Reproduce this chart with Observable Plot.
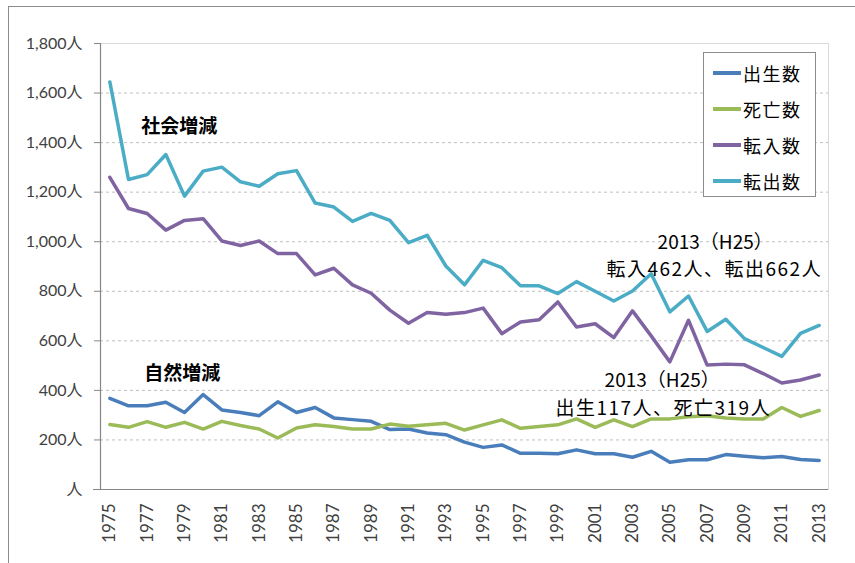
<!DOCTYPE html>
<html><head><meta charset="utf-8">
<script src="https://cdn.jsdelivr.net/npm/d3@7"></script>
<script src="https://cdn.jsdelivr.net/npm/@observablehq/plot@0.6"></script>
<style>
body{margin:0;background:#fff;}
#wrap{position:relative;width:855px;height:563px;overflow:hidden;font-family:"Noto Sans CJK JP",sans-serif;}
#frame{position:absolute;left:8px;top:6px;width:900px;height:600px;border:1.5px solid #8c8c8c;box-sizing:border-box;}
#chart{position:absolute;left:0;top:0;}
#legend{position:absolute;left:703px;top:52px;width:113px;height:145px;border:1px solid #8c8c8c;background:#fff;box-sizing:border-box;}
.item{position:absolute;left:9px;height:24px;display:flex;align-items:center;font-size:18px;letter-spacing:1.5px;color:#000;}
.sw{width:28px;height:3.5px;margin-right:2px;}
g[aria-description="detail"] text{letter-spacing:1.5px;}
</style></head>
<body>
<div id="wrap"><div id="frame"></div><div id="chart"></div><div id="legend"></div></div>
<script>
const years = [1975,1976,1977,1978,1979,1980,1981,1982,1983,1984,1985,1986,1987,1988,1989,1990,1991,1992,1993,1994,1995,1996,1997,1998,1999,2000,2001,2002,2003,2004,2005,2006,2007,2008,2009,2010,2011,2012,2013];
const seriesNames = ["出生数","死亡数","転入数","転出数"];
const seriesColors = ["#4a7ebb","#9bbb59","#8064a2","#4bacc6"];
const births = [368,338,338,352,311,383,321,311,298,354,311,331,289,282,275,242,244,228,221,191,170,180,146,146,144,160,144,144,130,154,110,120,120,141,134,128,133,121,117];
const deaths = [262,251,274,251,271,244,275,258,244,208,248,261,254,244,244,264,255,261,267,240,261,281,247,254,261,285,251,281,254,285,285,294,298,289,285,285,331,295,319];
const moveIn = [1260,1134,1114,1047,1086,1093,1003,985,1003,952,952,866,893,826,792,724,671,714,707,714,732,629,676,685,757,656,669,613,721,620,515,683,502,506,503,468,430,442,462];
const moveOut = [1645,1251,1271,1352,1184,1285,1301,1242,1224,1274,1287,1156,1140,1082,1114,1086,996,1026,902,826,925,895,822,822,791,839,800,761,801,871,717,781,638,687,609,573,537,630,662];
const yTicks = [0,200,400,600,800,1000,1200,1400,1600,1800];
const xTicks = years.filter((d,i)=>i%2===0);
const annotations = [
  {year:1977, value:1462, text:"社会増減", kind:"bold", shift:-6},
  {year:1977, value:467, text:"自然増減", kind:"bold", shift:-3},
  {year:2007, value:995, text:"2013（H25）", kind:"year", shift:8},
  {year:2013, value:886, text:"転入462人、転出662人", kind:"detail", shift:3},
  {year:2004, value:439, text:"2013（H25）", kind:"year", shift:11},
  {year:2010, value:326, text:"出生117人、死亡319人", kind:"detail", shift:8}
];

const allValues = [births, deaths, moveIn, moveOut];
const rows = [];
allValues.forEach((vals, s) => years.forEach((y, i) => rows.push({year:y, value:vals[i], name:seriesNames[s]})));

const jp = '"Noto Sans CJK JP",sans-serif';
const textStyles = {
  bold:{textAnchor:"start", fontWeight:"bold"},
  year:{textAnchor:"middle", fontWeight:"normal"},
  detail:{textAnchor:"end", fontWeight:"normal"}
};
const annotationMarks = annotations.map(a => Plot.text([a], {
  x:"year", y:"value", text:"text", dx:a.shift, fontFamily:jp, fontSize:19, fill:"#000",
  ariaDescription:a.kind, ...textStyles[a.kind]
}));

const chart = Plot.plot({
  width:855, height:563,
  marginLeft:100, marginRight:27, marginTop:43, marginBottom:74,
  style:{fontFamily:'Lato,"Noto Sans CJK JP",sans-serif', fontSize:"16px", color:"#404040", background:"transparent"},
  x:{type:"point", domain:years, padding:0.5, round:false, axis:null, label:null},
  y:{domain:[0,1800], axis:null, label:null},
  color:{domain:seriesNames, range:seriesColors},
  marks:[
    Plot.frame({stroke:"#d9d9d9"}),
    Plot.ruleY(yTicks.filter(d=>d>0 && d<1800), {stroke:"#bfbfbf", strokeDasharray:"3,3", strokeWidth:1}),
    Plot.frame({anchor:"left", stroke:"#868686", strokeWidth:1.2}),
    Plot.ruleY([0], {stroke:"#868686", strokeWidth:1.2, insetLeft:-7}),
    Plot.axisY({ticks:yTicks, tickSize:6, tickPadding:12, stroke:"#868686", label:null,
      tickFormat:d => d===0 ? "人" : d3.format(",")(d)+"人", fontSize:16}),
    Plot.axisX({ticks:xTicks, tickSize:0, tickPadding:14, tickRotate:-90, fontSize:17, label:null,
      tickFormat:d => String(d)}),
    Plot.line(rows, {x:"year", y:"value", z:"name", stroke:"name", strokeWidth:3.5, strokeLinejoin:"round", strokeLinecap:"round"}),
    ...annotationMarks
  ]
});
document.getElementById("chart").appendChild(chart);

const legend = document.getElementById("legend");
seriesNames.forEach((n,i)=>{
  const d = document.createElement("div");
  d.className="item";
  d.style.top = (8 + i*36) + "px";
  d.innerHTML = `<span class="sw" style="background:${seriesColors[i]}"></span><span>${n}</span>`;
  legend.appendChild(d);
});
</script>
</body></html>
